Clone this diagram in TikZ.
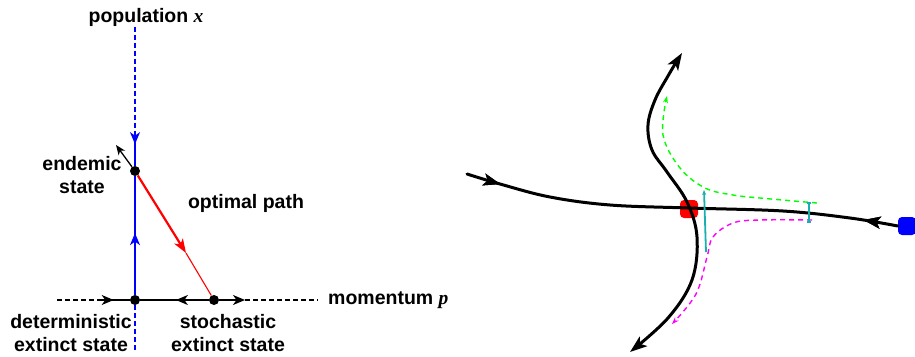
\documentclass[tikz,border=0pt]{standalone}
\usepackage{fontspec}
\setmainfont{Liberation Sans}
\newfontfamily\varfont{Liberation Serif}
\usetikzlibrary{arrows.meta,decorations.markings}
\definecolor{axebleu}{HTML}{0000FF}
\definecolor{chemin}{HTML}{FF0000}
\definecolor{bordvert}{HTML}{00FF00}
\definecolor{bordmag}{HTML}{FF00FF}
\definecolor{ecart}{HTML}{19AFAF}

\begin{document}
\begin{tikzpicture}[x=1pt,y=-1pt,
  etiq/.style={font=\fontsize{19.5}{23}\selectfont\bfseries, align=center, inner sep=0pt},
  point/.style={circle, fill=black, minimum size=10pt, inner sep=0pt},
  axe/.style={line width=1.4pt},
  tirets/.style={axe, dash pattern=on 5pt off 3pt},
  pointe/.style={postaction=decorate, decoration={markings,
      mark=at position #1 with {\arrow{Stealth[length=12pt,width=10pt,inset=3.5pt]}}}},
  courbe/.style={line width=3pt, line cap=round},
  avance/.style={postaction=decorate, decoration={markings,
      mark=at position #1 with {\arrow{Stealth[length=17pt,width=12pt,inset=4pt]}}}},
  recule/.style={postaction=decorate, decoration={markings,
      mark=at position #1 with {\arrowreversed{Stealth[length=17pt,width=12pt,inset=4pt]}}}},
  bord/.style={line width=1.4pt, dash pattern=on 5pt off 4pt},
  carre/.style={rounded corners=4pt, minimum size=18pt, inner sep=0pt}]
  \useasboundingbox (0,0) rectangle (915,356);
  % plan de phase (x, p)
  \node[point] (E) at (135,171) {};
  \node[point] (O) at (135,300) {};
  \node[point] (S) at (214,300) {};
  \coordinate (xh) at (135,27);
  \coordinate (xm) at (135,133);
  \coordinate (xb) at (135,352);
  \coordinate (pg) at (57,300);
  \coordinate (pm) at (100,300);
  \coordinate (pd) at (245,300);
  \coordinate (pf) at (318,300);
  \coordinate (R) at (186,253);
  \coordinate (En) at (116,145);
  \draw[tirets, axebleu] (xh) -- (xm);
  \draw[axe, axebleu, pointe=0.34] (xm) -- (E);
  \draw[axe, axebleu, pointe=0.52] (O) -- (E);
  \draw[tirets, axebleu] (O) -- (xb);
  \draw[tirets] (pg) -- (pm);
  \draw[axe, pointe=0.46] (pm) -- (O);
  \draw[axe, pointe=0.48] (S) -- (O);
  \draw[axe, -{Stealth[length=12pt,width=10pt,inset=3.5pt]}] (S) -- (pd);
  \draw[tirets] (pd) -- (pf);
  \draw[chemin, line width=2.2pt, -{Stealth[length=14pt,width=10pt,inset=3.5pt]}] (E) -- (R);
  \draw[chemin, line width=1.1pt] (R) -- (S);
  \draw[line width=1.3pt, -{Stealth[length=10pt,width=8pt,inset=3pt]}] (E) -- (En);
  % textes
  \node[etiq] (popx) at (146,17) {population {\varfont\itshape x}};
  \node[etiq, anchor=west] (mom) at (328,300) {momentum {\varfont\itshape p}};
  \node[etiq] (endem) at (82,175) {endemic\\state};
  \node[etiq] (optim) at (246,203) {optimal path};
  \node[etiq] (determ) at (71,333) {deterministic\\extinct state};
  \node[etiq] (stoch) at (228,333) {stochastic\\extinct state};
  % point selle et trajectoires
  \node[carre, fill=red] (selle) at (689,209) {};
  \node[carre, fill=blue] (fin) at (907,226) {};
  \draw[courbe, avance=0.08, recule=0.92] plot[smooth, tension=0.6] coordinates
    {(467,174) (500,184) (550,197) (610,205) (689,208) (783,211) (850,218) (fin.west)};
  \draw[courbe, {Stealth[length=17pt,width=12pt,inset=4pt]}-{Stealth[length=17pt,width=12pt,inset=4pt]}]
    plot[smooth, tension=0.6] coordinates
    {(682,53) (668,76) (655,100) (648,125) (652,150) (667,172) (687,202) (697,237) (692,280) (668,318) (630,352)};
  \draw[bordvert, bord, -{Stealth[length=7pt,width=5pt]}] plot[smooth, tension=0.6] coordinates
    {(817,203) (760,198) (733,195) (705,188) (680,168) (663,135) (667,96)};
  \draw[bordmag, bord, -{Stealth[length=7pt,width=5pt]}] plot[smooth, tension=0.6] coordinates
    {(812,220) (760,220) (733,223) (713,237) (707,257) (696,294) (672,324)};
  \coordinate (ta) at (706,252);
  \coordinate (tb) at (704,190);
  \coordinate (tc) at (809,202);
  \coordinate (td) at (809,223);
  \draw[ecart, line width=1.8pt, -{Stealth[length=5pt,width=4pt]}] (ta) -- (tb);
  \draw[ecart, line width=2pt, {Bar[width=4pt]}-{Bar[width=4pt]}] (tc) -- (td);
\end{tikzpicture}
\end{document}
